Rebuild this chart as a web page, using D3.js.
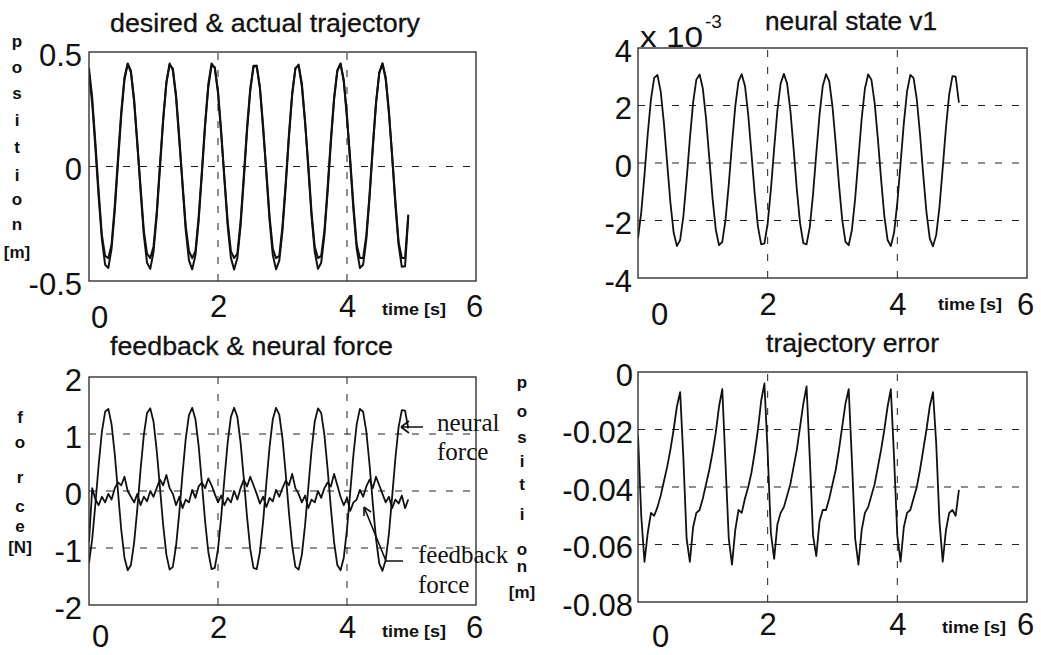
<!DOCTYPE html>
<html><head><meta charset="utf-8">
<script src="https://cdn.jsdelivr.net/npm/d3@7"></script>
<style>
html,body{margin:0;padding:0;background:#fff;}
svg{display:block;}
</style></head>
<body>
<svg id="chart" width="1041" height="655"></svg>
<script>
// ---------------- data (sampled every 0.05 s, t = 0 .. 4.95 s) ----------------
const sampleStep = 0.05;
const xTicks = [0, 2, 4, 6];

const posDesired = [
 0.407,0.273,0.077,-0.135,-0.318,-0.429,-0.443,-0.358,-0.192,0.017,
 0.222,0.378,0.448,0.418,0.293,0.103,-0.110,-0.299,-0.420,-0.447,
 -0.373,-0.216,-0.009,0.199,0.363,0.445,0.427,0.312,0.128,-0.085,
 -0.279,-0.410,-0.449,-0.387,-0.238,-0.035,0.176,0.347,0.440,0.434,
 0.330,0.153,-0.060,-0.259,-0.399,-0.450,-0.400,-0.259,-0.060,0.153,
 0.330,0.434,0.440,0.347,0.176,-0.035,-0.237,-0.387,-0.449,-0.411,
 -0.279,-0.086,0.128,0.312,0.427,0.445,0.363,0.199,-0.009,-0.216,
 -0.373,-0.447,-0.420,-0.299,-0.110,0.103,0.293,0.418,0.448,0.378,
 0.221,0.017,-0.192,-0.358,-0.443,-0.429,-0.317,-0.135,0.078,0.274,
 0.408,0.450,0.391,0.244,0.041,-0.169,-0.343,-0.438,-0.436,-0.22];

const posActual = [
 0.43,0.30,0.10,-0.11,-0.30,-0.39,-0.40,-0.34,-0.17,0.04,
 0.24,0.39,0.45,0.41,0.28,0.09,-0.09,-0.28,-0.38,-0.40,
 -0.35,-0.20,0.01,0.21,0.37,0.45,0.42,0.30,0.11,-0.07,
 -0.26,-0.37,-0.40,-0.37,-0.22,-0.02,0.19,0.36,0.45,0.43,
 0.32,0.14,-0.05,-0.24,-0.37,-0.40,-0.38,-0.24,-0.04,0.17,
 0.34,0.44,0.44,0.34,0.16,-0.02,-0.22,-0.36,-0.40,-0.39,
 -0.26,-0.07,0.14,0.32,0.43,0.44,0.35,0.19,0.01,-0.20,
 -0.35,-0.40,-0.39,-0.28,-0.09,0.12,0.30,0.42,0.45,0.37,
 0.21,0.03,-0.17,-0.34,-0.40,-0.40,-0.30,-0.12,0.09,0.28,
 0.41,0.45,0.38,0.23,0.05,-0.15,-0.33,-0.40,-0.40,-0.21];

// neural state v1, in units of 1e-3
const neuralV1 = [
 -2.62,-1.72,-0.42,1.00,2.22,2.96,3.06,2.49,1.38,-0.01,
 -1.38,-2.42,-2.89,-2.68,-1.85,-0.58,0.84,2.10,2.90,3.08,
 2.59,1.54,0.16,-1.23,-2.32,-2.86,-2.74,-1.98,-0.75,0.67,
 1.96,2.84,3.09,2.68,1.68,0.33,-1.07,-2.21,-2.83,-2.80,
 -2.10,-0.92,0.50,1.83,2.76,3.10,2.76,1.83,0.50,-0.92,
 -2.10,-2.79,-2.83,-2.22,-1.08,0.33,1.68,2.68,3.09,2.84,
 1.96,0.67,-0.75,-1.98,-2.74,-2.86,-2.32,-1.23,0.16,1.54,
 2.59,3.08,2.90,2.09,0.84,-0.58,-1.86,-2.68,-2.89,-2.42,
 -1.38,-0.01,1.38,2.49,3.06,2.96,2.22,1.00,-0.42,-1.73,
 -2.62,-2.90,-2.50,-1.53,-0.18,1.23,2.39,3.02,3.00,2.10];

const neuralForce = [
 -1.26,-0.84,-0.22,0.46,1.04,1.39,1.44,1.17,0.64,-0.02,
 -0.68,-1.17,-1.39,-1.30,-0.90,-0.30,0.38,0.98,1.37,1.45,
 1.22,0.71,0.06,-0.60,-1.12,-1.38,-1.33,-0.96,-0.38,0.30,
 0.92,1.33,1.46,1.26,0.79,0.14,-0.53,-1.07,-1.37,-1.35,
 -1.02,-0.45,0.22,0.85,1.30,1.46,1.30,0.85,0.22,-0.45,
 -1.02,-1.35,-1.37,-1.07,-0.53,0.14,0.78,1.26,1.46,1.34,
 0.92,0.30,-0.38,-0.96,-1.33,-1.38,-1.12,-0.60,0.06,0.71,
 1.22,1.45,1.37,0.98,0.38,-0.30,-0.90,-1.30,-1.39,-1.17,
 -0.67,-0.02,0.64,1.17,1.44,1.39,1.04,0.46,-0.22,-0.84,
 -1.27,-1.40,-1.21,-0.75,-0.10,0.57,1.12,1.42,1.41,1.10];

const feedbackForce = [
 -0.90,0.05,-0.15,-0.25,-0.10,-0.20,-0.05,-0.15,0.05,0.15,
 0.10,0.25,0.00,-0.10,-0.20,-0.05,-0.25,-0.10,-0.18,0.00,
 -0.10,0.05,0.20,0.10,0.28,0.05,-0.05,-0.25,-0.10,-0.30,
 -0.15,-0.20,0.02,-0.12,0.08,0.15,0.05,0.22,0.10,-0.05,
 -0.20,-0.08,-0.25,-0.12,-0.20,0.00,-0.15,0.05,0.20,0.08,
 0.25,0.10,-0.05,-0.22,-0.10,-0.28,-0.12,-0.18,0.02,-0.10,
 0.05,0.18,0.10,0.30,0.05,-0.05,-0.20,-0.08,-0.30,-0.15,
 -0.20,0.00,-0.12,0.05,0.15,0.08,0.30,0.10,-0.10,-0.25,
 -0.12,-0.35,-0.20,-0.15,0.02,-0.10,0.08,0.20,0.05,0.25,
 0.10,-0.05,-0.20,-0.10,-0.30,-0.15,-0.22,-0.08,-0.30,-0.15];

const trajError = [
 -0.022,-0.050,-0.066,-0.056,-0.049,-0.050,-0.047,-0.043,-0.038,-0.033,
 -0.027,-0.020,-0.012,-0.007,-0.030,-0.058,-0.066,-0.054,-0.049,-0.048,
 -0.044,-0.039,-0.034,-0.028,-0.021,-0.012,-0.006,-0.032,-0.058,-0.067,
 -0.055,-0.048,-0.049,-0.044,-0.040,-0.035,-0.028,-0.020,-0.010,-0.004,
 -0.028,-0.056,-0.065,-0.053,-0.049,-0.047,-0.043,-0.039,-0.033,-0.027,
 -0.019,-0.011,-0.005,-0.030,-0.057,-0.064,-0.052,-0.048,-0.048,-0.044,
 -0.039,-0.034,-0.027,-0.019,-0.011,-0.006,-0.031,-0.058,-0.067,-0.055,
 -0.049,-0.047,-0.043,-0.039,-0.033,-0.027,-0.020,-0.012,-0.006,-0.030,
 -0.057,-0.066,-0.054,-0.049,-0.048,-0.044,-0.040,-0.034,-0.027,-0.020,
 -0.012,-0.007,-0.025,-0.052,-0.066,-0.055,-0.049,-0.048,-0.050,-0.041];

const yTicksPos = [-0.5, 0, 0.5];
const yTicksV1 = [-4, -2, 0, 2, 4];
const yTicksForce = [-2, -1, 0, 1, 2];
const yTicksErr = [-0.08, -0.06, -0.04, -0.02, 0];

// ---------------- drawing ----------------
const svg = d3.select("#chart");
const SANS = "'Liberation Sans', Arial, Helvetica, sans-serif";
const SERIF = "'Liberation Serif', 'Times New Roman', serif";

function panel(cfg) {
  const x = d3.scaleLinear().domain([0, 6]).range([cfg.x0, cfg.x1]);
  const y = d3.scaleLinear().domain(cfg.yDomain).range([cfg.y0, cfg.y1]);
  const g = svg.append("g");
  const clipId = "clip" + cfg.id;
  svg.append("clipPath").attr("id", clipId).append("rect")
    .attr("x", cfg.x0).attr("y", cfg.y1).attr("width", cfg.x1 - cfg.x0).attr("height", cfg.y0 - cfg.y1);

  // grid
  const gridY = cfg.yTicks.filter(d => d !== cfg.yDomain[0] && d !== cfg.yDomain[1]);
  g.selectAll(".gy").data(gridY).enter().append("line")
    .attr("x1", cfg.x0).attr("x2", cfg.x1).attr("y1", d => y(d)).attr("y2", d => y(d))
    .attr("stroke", "#222").attr("stroke-width", 1).attr("stroke-dasharray", "7,10");
  g.selectAll(".gx").data([2, 4]).enter().append("line")
    .attr("y1", cfg.y0).attr("y2", cfg.y1).attr("x1", d => x(d)).attr("x2", d => x(d))
    .attr("stroke", "#222").attr("stroke-width", 1).attr("stroke-dasharray", "7,10");

  // series
  const dg = g.append("g").attr("clip-path", `url(#${clipId})`);
  cfg.series.forEach(s => {
    const line = d3.line().curve(d3.curveLinear)
      .x((d, i) => x(i * sampleStep)).y(d => y(d));
    dg.append("path").datum(s.values).attr("d", line)
      .attr("fill", "none").attr("stroke", "#111").attr("stroke-width", s.w || 1.8)
      .attr("stroke-linejoin", "round");
  });

  // box
  g.append("rect").attr("x", cfg.x0).attr("y", cfg.y1)
    .attr("width", cfg.x1 - cfg.x0).attr("height", cfg.y0 - cfg.y1)
    .attr("fill", "none").attr("stroke", "#333").attr("stroke-width", 1.4);

  // x axis
  const ax = g.append("g").attr("transform", `translate(0,${cfg.y0})`)
    .call(d3.axisBottom(x).tickValues(xTicks).tickSize(0).tickFormat(d => String(d)));
  ax.select(".domain").remove();
  ax.selectAll("text")
    .attr("font-family", SANS).attr("font-size", 31).attr("fill", "#111")
    .attr("dy", null)
    .attr("y", d => d === 0 ? cfg.xLabZeroDy : cfg.xLabDy)
    .attr("dx", d => d === 0 ? cfg.xLabZeroDx : (d === 6 ? -2 : 0));

  // y axis
  const ay = g.append("g").attr("transform", `translate(${cfg.x0},0)`)
    .call(d3.axisLeft(y).tickValues(cfg.yTicks).tickSize(0).tickPadding(cfg.yPad).tickFormat(d => String(d)));
  ay.select(".domain").remove();
  ay.selectAll("text")
    .attr("font-family", SANS).attr("font-size", 31).attr("fill", "#111")
    .attr("dy", "0.42em");

  // title
  svg.append("text").attr("x", cfg.title.x).attr("y", cfg.title.y)
    .attr("font-family", SANS).attr("font-size", 25).attr("fill", "#111")
    .attr("stroke", "#111").attr("stroke-width", 0.3)
    .attr("textLength", cfg.title.w).attr("lengthAdjust", "spacingAndGlyphs")
    .text(cfg.title.text);

  // time label
  svg.append("text").attr("x", cfg.timeLab.x).attr("y", cfg.timeLab.y)
    .attr("font-family", SANS).attr("font-size", 16).attr("font-weight", "bold").attr("fill", "#111")
    .attr("textLength", 64).attr("lengthAdjust", "spacingAndGlyphs")
    .text("time [s]");

  // vertical y label
  if (cfg.yLab) {
    cfg.yLab.letters.forEach((ch, i) => {
      svg.append("text").attr("x", cfg.yLab.x).attr("y", cfg.yLab.ys[i])
        .attr("text-anchor", "middle")
        .attr("font-family", SANS).attr("font-size", 17).attr("font-weight", "bold").attr("fill", "#111")
        .text(ch);
    });
  }
  return {x, y};
}

const positionLetters = ["p", "o", "s", "i", "t", "i", "o", "n", "[m]"];

panel({
  id: 1, x0: 89, x1: 476, y0: 281, y1: 52, yDomain: [-0.5, 0.5], yTicks: yTicksPos, yPad: 7,
  xLabDy: 36, xLabZeroDy: 47, xLabZeroDx: 10,
  series: [{values: posDesired, w: 2}, {values: posActual, w: 2}],
  title: {text: "desired & actual trajectory", x: 110, y: 32, w: 310},
  timeLab: {x: 382, y: 315},
  yLab: {x: 17, letters: positionLetters, ys: [47, 73, 99, 126, 153, 181, 205, 230, 258]}
});

panel({
  id: 2, x0: 638, x1: 1027, y0: 278, y1: 48, yDomain: [-4, 4], yTicks: yTicksV1, yPad: 6,
  xLabDy: 37, xLabZeroDy: 47, xLabZeroDx: 21,
  series: [{values: neuralV1, w: 1.8}],
  title: {text: "neural state v1", x: 765, y: 30, w: 172},
  timeLab: {x: 938, y: 310}
});

panel({
  id: 3, x0: 89, x1: 476, y0: 605, y1: 377, yDomain: [-2, 2], yTicks: yTicksForce, yPad: 7,
  xLabDy: 33, xLabZeroDy: 42, xLabZeroDx: 11,
  series: [{values: neuralForce, w: 1.8}, {values: feedbackForce, w: 1.8}],
  title: {text: "feedback & neural force", x: 110, y: 355, w: 283},
  timeLab: {x: 382, y: 637},
  yLab: {x: 20, letters: ["f", "o", "r", "c", "e", "[N]"], ys: [423, 448, 483, 512, 532, 553]}
});

panel({
  id: 4, x0: 638, x1: 1027, y0: 602, y1: 372, yDomain: [-0.08, 0], yTicks: yTicksErr, yPad: 5,
  xLabDy: 33, xLabZeroDy: 45, xLabZeroDx: 22,
  series: [{values: trajError, w: 1.8}],
  title: {text: "trajectory error", x: 766, y: 352, w: 173},
  timeLab: {x: 942, y: 633},
  yLab: {x: 522, letters: positionLetters, ys: [388, 417, 443, 467, 490, 520, 555, 572, 598]}
});

// x 10^-3 multiplier for panel 2
svg.append("text").attr("x", 640).attr("y", 47)
  .attr("font-family", SANS).attr("font-size", 30).attr("fill", "#111")
  .attr("textLength", 63).attr("lengthAdjust", "spacingAndGlyphs").text("x 10");
svg.append("text").attr("x", 705).attr("y", 28)
  .attr("font-family", SANS).attr("font-size", 19).attr("fill", "#111").text("-3");

// annotations in panel 3
const ann = svg.append("g").attr("font-family", SERIF).attr("font-size", 25).attr("fill", "#111");
ann.append("text").attr("x", 437).attr("y", 431).text("neural");
ann.append("text").attr("x", 437).attr("y", 460).text("force");
ann.append("text").attr("x", 418).attr("y", 563).text("feedback");
ann.append("text").attr("x", 418).attr("y", 593).text("force");

const arrows = svg.append("g").attr("stroke", "#111").attr("stroke-width", 1.6).attr("fill", "none");
arrows.append("path").attr("d", "M423,427 L401,427 M401,427 L409,421 M401,427 L409,433");
arrows.append("path").attr("d", "M403,561 L386,561 L364,507 M364,507 L364,516 M364,507 L371,512");
</script>
</body></html>
